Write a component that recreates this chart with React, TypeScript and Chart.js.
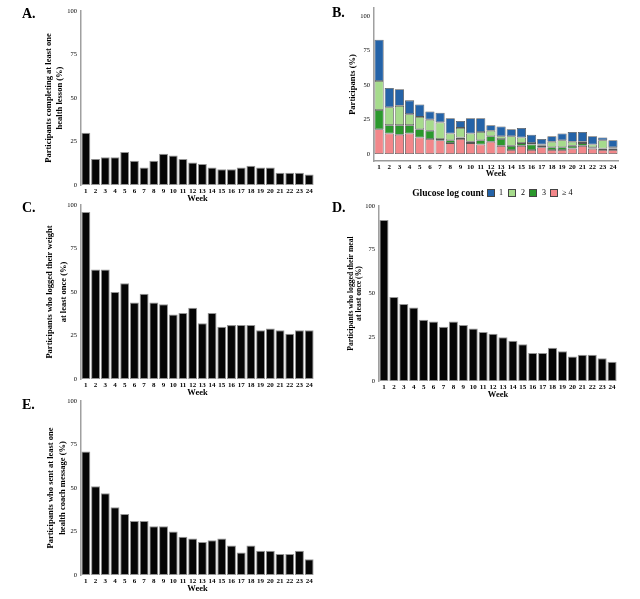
import React, { useEffect, useRef } from "react";
import { Chart, registerables } from "chart.js";

Chart.register(...registerables);

const weeks = ["1","2","3","4","5","6","7","8","9","10","11","12","13","14","15","16","17","18","19","20","21","22","23","24"];
const yTickValues = [0, 25, 50, 75, 100];

const lessonPct = [30,15,16,16,19,14,10,14,18,17,15,13,12,10,9,9,10,11,10,10,7,7,7,6];
const glucoseOne = [30,14,12,10,9,6,7,11,5,11,10,4,7,5,7,6,4,4,5,7,7,6,2,5];
const glucoseTwo = [21,13,14,8,9,8,12,5,7,6,6,4,2,7,4,1,1,4,5,3,1,2,6,1];
const glucoseThree = [14,6,7,6,6,6,1,2,1,1,3,4,5,3,2,4,1,2,2,2,2,1,1,1];
const glucoseFourPlus = [18,15,14,15,12,11,10,8,11,8,7,9,6,3,6,3,5,3,3,4,6,4,3,3];
const weightPct = [96,63,63,50,55,44,49,44,43,37,38,41,32,38,30,31,31,31,28,29,28,26,28,28];
const mealPct = [92,48,44,42,35,34,31,34,32,30,28,27,25,23,21,16,16,19,17,14,15,15,13,11];
const messagePct = [71,51,47,39,35,31,31,28,28,25,22,21,19,20,21,17,13,17,14,14,12,12,14,9];

const glucoseLabels = ["1", "2", "3", "\u2265 4"];
const COLORS = { one: "#2463a8", two: "#a6db8c", three: "#2b982d", four: "#f2878a" };

const FONT = "'Liberation Serif', 'Times New Roman', serif";

type Spec = {
  left: number; top: number; width: number; height: number;
  aL: number; aT: number; aR: number; aB: number;
  xH: number; yMin: number; yMax: number; stacked: boolean; xBorder: boolean;
  title: string[]; tSize: number; tLH: number; tX: number;
  datasets: any[];
};

function blackBars(data: number[]) {
  return [{
    data,
    backgroundColor: "#050505",
    borderColor: "#959595",
    borderWidth: 1,
    borderSkipped: false,
    barPercentage: 0.92,
    categoryPercentage: 1.0,
  }];
}

function stackSet(data: number[], color: string) {
  return {
    data,
    backgroundColor: color,
    borderColor: "#555",
    borderWidth: 0.8,
    borderSkipped: false,
    barPercentage: 0.9,
    categoryPercentage: 1.0,
  };
}

const specs: Spec[] = [
  {
    left: 0, top: 0, width: 320, height: 204, aL: 81, aT: 11, aR: 314, aB: 185, xH: 19,
    yMin: 0, yMax: 100, stacked: false, xBorder: false,
    title: ["Participants completing at least one", "health lesson (%)"], tSize: 8.5, tLH: 11, tX: 49,
    datasets: blackBars(lessonPct),
  },
  {
    left: 320, top: 0, width: 320, height: 179, aL: 374, aT: 8, aR: 618, aB: 161, xH: 18,
    yMin: -5, yMax: 106, stacked: true, xBorder: true,
    title: ["Participants (%)"], tSize: 8.5, tLH: 10.2, tX: 353,
    datasets: [
      stackSet(glucoseFourPlus, COLORS.four),
      stackSet(glucoseThree, COLORS.three),
      stackSet(glucoseTwo, COLORS.two),
      stackSet(glucoseOne, COLORS.one),
    ],
  },
  {
    left: 0, top: 195, width: 320, height: 203, aL: 81, aT: 205, aR: 314, aB: 379, xH: 19,
    yMin: 0, yMax: 100, stacked: false, xBorder: false,
    title: ["Participants who logged their weight", "at least once (%)"], tSize: 8.5, tLH: 14, tX: 49.5,
    datasets: blackBars(weightPct),
  },
  {
    left: 320, top: 195, width: 320, height: 205, aL: 379, aT: 206, aR: 617, aB: 381, xH: 19,
    yMin: 0, yMax: 100, stacked: false, xBorder: false,
    title: ["Participants who logged their meal", "at least once (%)"], tSize: 7.7, tLH: 8.7, tX: 350.7,
    datasets: blackBars(mealPct),
  },
  {
    left: 0, top: 390, width: 320, height: 204, aL: 81, aT: 401, aR: 314, aB: 575, xH: 19,
    yMin: 0, yMax: 100, stacked: false, xBorder: false,
    title: ["Participants who sent at least one", "health coach message (%)"], tSize: 8.5, tLH: 12, tX: 50.5,
    datasets: blackBars(messagePct),
  },
];

function Panel({ spec }: { spec: Spec }) {
  const ref = useRef<HTMLCanvasElement | null>(null);
  useEffect(() => {
    if (!ref.current) return;
    const s = spec;
    const chart = new Chart(ref.current, {
      type: "bar",
      data: { labels: weeks, datasets: s.datasets },
      options: {
        responsive: false,
        animation: false,
        devicePixelRatio: 1,
        layout: { padding: { left: 0, top: s.aT - s.top, right: s.left + s.width - s.aR, bottom: 0 } },
        plugins: { legend: { display: false }, tooltip: { enabled: false } },
        scales: {
          x: {
            stacked: s.stacked,
            grid: { display: false, drawTicks: false },
            border: { display: s.xBorder, color: "#9a9a9a", width: 1.5 },
            ticks: {
              color: "#000", padding: 2, maxRotation: 0, autoSkip: false,
              font: { family: FONT, size: 7, weight: "bold" },
            },
            title: {
              display: true, text: "Week", color: "#000",
              font: { family: FONT, size: 8.5, weight: "bold", lineHeight: 1.2 },
              padding: { top: 0, bottom: 0 },
            },
            afterFit: (sc: any) => { sc.height = s.xH; },
          },
          y: {
            stacked: s.stacked,
            min: s.yMin, max: s.yMax,
            grid: { display: false, drawTicks: false },
            border: { display: true, color: "#a0a0a0", width: 1.5 },
            ticks: { color: "#000", padding: 4, font: { family: FONT, size: 6.5 } },
            afterBuildTicks: (sc: any) => { sc.ticks = yTickValues.map((v) => ({ value: v })); },
            title: {
              display: true, text: s.title, color: "#000",
              font: { family: FONT, size: s.tSize, weight: "bold", lineHeight: s.tLH / s.tSize },
              padding: { top: s.tX - s.left - s.tLH / 2, bottom: 0 },
            },
            afterFit: (sc: any) => { sc.width = s.aL - s.left; },
          },
        },
      } as any,
    });
    return () => chart.destroy();
  }, [spec]);
  return (
    <canvas
      ref={ref}
      width={spec.width}
      height={spec.height}
      style={{ position: "absolute", left: spec.left, top: spec.top }}
    />
  );
}

const letterStyle = (left: number, top: number): React.CSSProperties => ({
  position: "absolute", left, top, fontFamily: FONT, fontWeight: "bold",
  fontSize: 14, lineHeight: "14px", color: "#000",
});

const legendItems = [
  { label: glucoseLabels[0], color: COLORS.one, box: 487, text: 499 },
  { label: glucoseLabels[1], color: COLORS.two, box: 508, text: 521 },
  { label: glucoseLabels[2], color: COLORS.three, box: 529, text: 542 },
  { label: glucoseLabels[3], color: COLORS.four, box: 550, text: 562 },
];

export default function App() {
  return (
    <div style={{ position: "absolute", left: 0, top: 0, width: 640, height: 599, background: "#fff", overflow: "hidden" }}>
      {specs.map((s, i) => <Panel key={i} spec={s} />)}
      <div style={letterStyle(22, 6.6)}>A.</div>
      <div style={letterStyle(332, 5.6)}>B.</div>
      <div style={letterStyle(22, 200.6)}>C.</div>
      <div style={letterStyle(332, 200.6)}>D.</div>
      <div style={letterStyle(22, 397.6)}>E.</div>
      <div style={{ position: "absolute", left: 408, top: 187, width: 76, textAlign: "right", fontFamily: FONT, fontWeight: "bold", fontSize: 9.5, lineHeight: "12px", color: "#000", whiteSpace: "nowrap" }}>
        Glucose log count
      </div>
      {legendItems.map((it, i) => (
        <React.Fragment key={i}>
          <div style={{ position: "absolute", left: it.box, top: 189, width: 8, height: 8, boxSizing: "border-box", background: it.color, border: "1px solid #444" }} />
          <div style={{ position: "absolute", left: it.text, top: 187, fontFamily: FONT, fontSize: 8, lineHeight: "12px", color: "#000", whiteSpace: "nowrap" }}>
            {it.label}
          </div>
        </React.Fragment>
      ))}
    </div>
  );
}
